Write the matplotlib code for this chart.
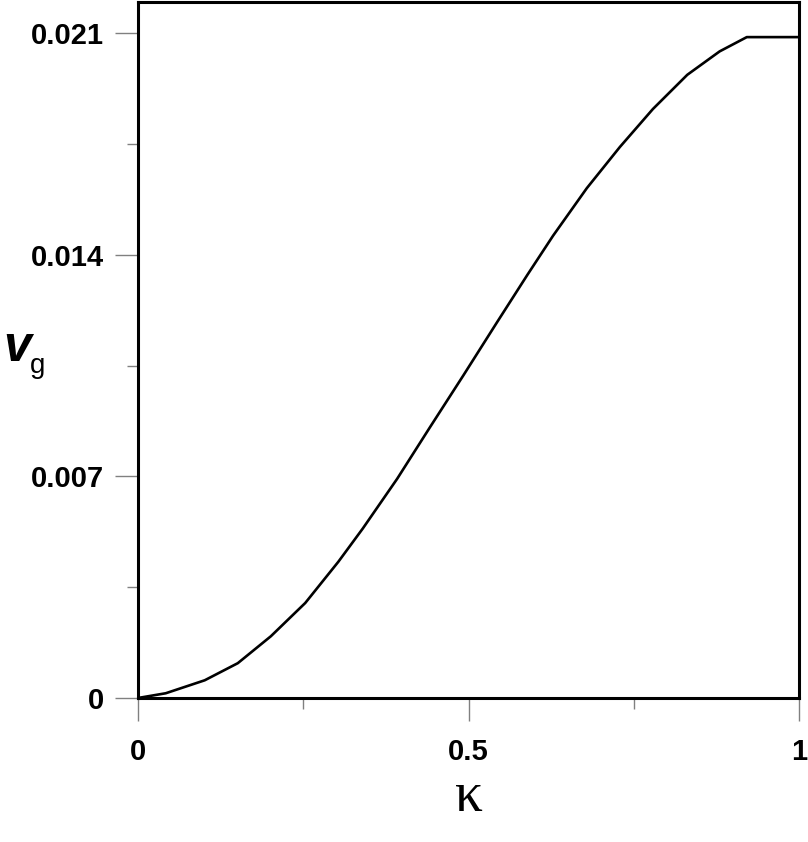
import matplotlib
matplotlib.use("Agg")
import matplotlib.pyplot as plt

# group velocity
kappa = [0.0, 0.042, 0.101, 0.151, 0.201, 0.253, 0.303, 0.340, 0.392, 0.442,
         0.492, 0.543, 0.589, 0.628, 0.679, 0.729, 0.779, 0.831, 0.880, 0.921, 1.0]
vg = [0.0, 0.00015, 0.00056, 0.00110, 0.00195, 0.00300, 0.00430, 0.00535, 0.00692, 0.00856,
      0.01018, 0.01186, 0.01336, 0.01460, 0.01610, 0.01740, 0.01860, 0.01968, 0.02042, 0.02087, 0.02087]

x_ticks = [0, 0.5, 1]
x_labels = ["0", "0.5", "1"]
x_minor = [0.25, 0.75]
y_ticks = [0, 0.007, 0.014, 0.021]
y_labels = ["0", "0.007", "0.014", "0.021"]
y_minor = [0.0035, 0.0105, 0.0175]

fig = plt.figure(figsize=(8.08, 8.42), dpi=100)
ax = fig.add_axes([138 / 808, 144 / 842, 661 / 808, 696 / 842])

ax.plot(kappa, vg, color="black", linewidth=1.9, solid_joinstyle="round")

ax.set_xlim(0, 1)
ax.set_ylim(0, 0.021 * 696 / 665)

ax.set_xticks(x_ticks)
ax.set_xticklabels(x_labels)
ax.set_xticks(x_minor, minor=True)
ax.set_yticks(y_ticks)
ax.set_yticklabels(y_labels)
ax.set_yticks(y_minor, minor=True)

for lbl in ax.get_xticklabels() + ax.get_yticklabels():
    lbl.set_fontfamily("Liberation Sans")
    lbl.set_fontweight("bold")
    lbl.set_fontsize(21)

ax.tick_params(axis="both", which="major", length=16.5, width=1.0, color="#808080", direction="out")
ax.tick_params(axis="both", which="minor", length=8, width=1.0, color="#808080", direction="out")
ax.tick_params(axis="x", which="major", pad=12)
ax.tick_params(axis="y", which="major", pad=8)

for s in ax.spines.values():
    s.set_linewidth(2.2)
    s.set_color("black")

# axis titles
ax.set_xlabel("κ", fontfamily="Liberation Serif", fontsize=40, labelpad=4)
fig.text(17 / 808, 1 - 348 / 842, "v", fontfamily="Liberation Sans", fontweight="bold",
         fontstyle="italic", fontsize=36, ha="center", va="center")
fig.text(38 / 808, 1 - 366 / 842, "g", fontfamily="Liberation Sans", fontsize=20,
         ha="center", va="center")

fig.savefig("out.png", dpi=100)
